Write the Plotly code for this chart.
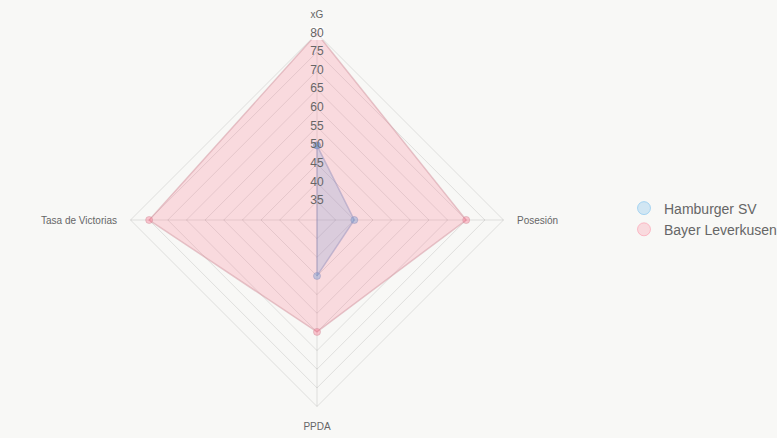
import plotly.graph_objects as go

categories = ["xG", "Posesión", "PPDA", "Tasa de Victorias"]
hamburger = [50, 40, 45, 30]
leverkusen = [80, 70, 60, 75]
team_names = ["Hamburger SV", "Bayer Leverkusen"]
radial_ticks = [35, 40, 45, 50, 55, 60, 65, 70, 75, 80]

FONT = "Liberation Sans, Arial, Helvetica, sans-serif"
BG = "#f8f8f6"

def closed(vals):
    return vals + vals[:1]

fig = go.Figure()

styles = [
    dict(fill="rgba(54,162,235,0.2)", line="rgba(120,150,200,0.45)", marker="rgba(54,162,235,0.35)"),
    dict(fill="rgba(255,99,132,0.2)", line="rgba(210,150,160,0.5)", marker="rgba(255,99,132,0.35)"),
]

for name, vals, st in zip(team_names, [hamburger, leverkusen], styles):
    fig.add_trace(go.Scatterpolar(
        r=closed(vals), theta=closed(categories),
        mode="lines+markers", fill="toself", fillcolor=st["fill"],
        line=dict(color=st["line"], width=1.5),
        marker=dict(size=7, color=st["marker"], line=dict(width=1, color=st["line"])),
        name=name, showlegend=False, hoverinfo="r+theta+name",
    ))

# radial tick labels drawn along the xG axis, on top of the datasets
backdrops = ["rgba(0,0,0,0)"] * (len(radial_ticks) - 1) + ["rgba(255,255,255,0.8)"]
fig.add_trace(go.Scatterpolar(
    r=radial_ticks, theta=[categories[0]] * len(radial_ticks),
    mode="markers+text", text=[str(t) for t in radial_ticks],
    marker=dict(symbol="square", size=13, color=backdrops, line=dict(width=0)),
    textfont=dict(family=FONT, size=12, color="#666666"),
    textposition="middle center", showlegend=False, hoverinfo="skip",
))

# legend entries (circle style)
for name, st in zip(team_names, styles):
    fig.add_trace(go.Scatterpolar(
        r=[None], theta=[None], mode="markers", name=name,
        marker=dict(size=13, color=st["fill"], line=dict(width=1, color=st["marker"])),
    ))

cx, cy, R = 317, 220, 186.5
W, H = 777, 438
fig.update_layout(
    width=W, height=H,
    margin=dict(l=0, r=0, t=0, b=0, autoexpand=False),
    paper_bgcolor=BG, plot_bgcolor=BG,
    font=dict(family=FONT, color="#666666"),
    polar=dict(
        domain=dict(x=[(cx - R) / W, (cx + R) / W], y=[1 - (cy + R) / H, 1 - (cy - R) / H]),
        bgcolor=BG,
        gridshape="linear",
        radialaxis=dict(range=[30, 80], dtick=5, tick0=30, showticklabels=False, ticks="",
                        showline=False, gridcolor="rgba(0,0,0,0.1)", gridwidth=1),
        angularaxis=dict(rotation=90, direction="clockwise", categoryorder="array",
                         categoryarray=categories, ticks="outside", ticklen=11,
                         tickcolor="rgba(0,0,0,0)", showline=True,
                         linecolor="rgba(0,0,0,0.1)", linewidth=1,
                         gridcolor="rgba(0,0,0,0.1)",
                         tickfont=dict(family=FONT, size=10, color="#666666")),
    ),
    legend=dict(x=624 / W, y=0.5, xanchor="left", yanchor="middle",
                font=dict(family=FONT, size=14, color="#666666"),
                bgcolor="rgba(0,0,0,0)", itemsizing="trace"),
)

fig.write_html("out.html")
